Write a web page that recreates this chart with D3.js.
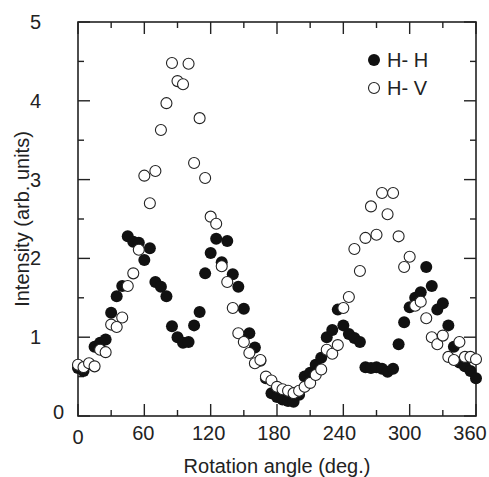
<!DOCTYPE html>
<html>
<head>
<meta charset="utf-8">
<script src="https://cdn.jsdelivr.net/npm/d3@7"></script>
<style>
  body { margin: 0; background: #fff; }
  text { font-family: "Liberation Sans", Arial, sans-serif; fill: #222; }
</style>
</head>
<body>
<svg id="chart"></svg>
<script>
// rotation angle in degrees, every 5 deg
const angles = d3.range(0, 361, 5);

// H-H (filled circles)
const hh = [
  0.61, 0.57, 0.66, 0.88, 0.93, 0.97, 1.31, 1.52, 1.65, 2.28,
  2.21, 2.20, 1.98, 2.13, 1.70, 1.64, 1.52, 1.14, 1.00, 0.93,
  0.94, 1.15, 1.32, 1.81, 2.07, 2.25, 1.95, 2.22, 1.80, 1.64,
  1.36, 1.05, 0.87, 0.70, 0.48, 0.29, 0.24, 0.21, 0.19, 0.18,
  0.27, 0.50, 0.55, 0.65, 0.74, 1.00, 1.09, 1.35, 1.15, 1.04,
  0.99, 0.94, 0.62, 0.61, 0.62, 0.60, 0.56, 0.60, 0.91, 1.19,
  1.38, 1.50, 1.57, 1.89, 1.65, 1.35, 1.43, 1.15, 0.88, 0.68,
  0.63, 0.57, 0.48
];

// H-V (open circles)
const hv = [
  0.65, 0.62, 0.67, 0.63, 0.84, 0.81, 1.16, 1.13, 1.25, 1.65,
  1.81, 2.11, 3.05, 2.70, 3.11, 3.63, 3.97, 4.48, 4.25, 4.21,
  4.47, 3.21, 3.78, 3.02, 2.53, 2.44, 1.90, 1.70, 1.37, 1.05,
  0.94, 0.80, 0.67, 0.71, 0.50, 0.45, 0.37, 0.34, 0.32, 0.29,
  0.32, 0.37, 0.42, 0.52, 0.59, 0.84, 0.79, 0.90, 1.37, 1.51,
  2.12, 1.84, 2.26, 2.66, 2.30, 2.83, 2.56, 2.83, 2.28, 1.89,
  2.02, 1.40, 1.45, 1.24, 1.00, 0.91, 1.02, 0.75, 0.71, 0.94,
  0.75, 0.75, 0.72
];

const xTicks = [0, 60, 120, 180, 240, 300, 360];
const xMinor = [30, 90, 150, 210, 270, 330];
const yTicks = [0, 1, 2, 3, 4, 5];
const yMinor = [0.5, 1.5, 2.5, 3.5, 4.5];
const seriesNames = ["H- H", "H- V"];

const width = 489;
const height = 477;
const margin = { top: 22, right: 13, bottom: 61, left: 78 };

const svg = d3.select("#chart").attr("width", width).attr("height", height);

const x = d3.scaleLinear().domain([0, 360]).range([margin.left, width - margin.right]);
const y = d3.scaleLinear().domain([0, 5]).range([height - margin.bottom, margin.top]);
// tick labels in the original sit slightly left of their ticks toward the right end
const xLabel = d3.scaleLinear().domain([0, 360]).range([margin.left, width - margin.right - 6]);

const x0 = x(0), x1 = x(360), y0 = y(0), y1 = y(5);

// frame
svg.append("rect")
  .attr("x", x0).attr("y", y1)
  .attr("width", x1 - x0).attr("height", y0 - y1)
  .attr("fill", "none").attr("stroke", "#222").attr("stroke-width", 1.6);

// inward ticks on all four sides
const tickG = svg.append("g").attr("stroke", "#222").attr("stroke-width", 1.4);
const major = 12, minor = 6;
xTicks.concat(xMinor).forEach(v => {
  const len = xTicks.includes(v) ? major : minor;
  tickG.append("line").attr("x1", x(v)).attr("x2", x(v)).attr("y1", y0).attr("y2", y0 - len);
  tickG.append("line").attr("x1", x(v)).attr("x2", x(v)).attr("y1", y1).attr("y2", y1 + len);
});
yTicks.concat(yMinor).forEach(v => {
  const len = yTicks.includes(v) ? major : minor;
  tickG.append("line").attr("y1", y(v)).attr("y2", y(v)).attr("x1", x0).attr("x2", x0 + len);
  tickG.append("line").attr("y1", y(v)).attr("y2", y(v)).attr("x1", x1).attr("x2", x1 - len);
});

// tick labels
svg.append("g").selectAll("text")
  .data(xTicks)
  .enter().append("text")
  .attr("x", d => xLabel(d))
  .attr("y", d => d === 0 ? y0 + 28 : y0 + 24)
  .attr("text-anchor", "middle")
  .style("font-size", "20px")
  .text(d => d);

svg.append("g").selectAll("text")
  .data(yTicks)
  .enter().append("text")
  .attr("x", d => d === 0 ? x0 - 14 : x0 - 37)
  .attr("y", d => y(d) + 7 - (d === 0 ? 4 : 0))
  .attr("text-anchor", "end")
  .style("font-size", "20px")
  .text(d => d);

// axis titles
svg.append("text")
  .attr("x", (x0 + x1) / 2)
  .attr("y", height - 4)
  .attr("text-anchor", "middle")
  .style("font-size", "20px")
  .text("Rotation angle (deg.)");

svg.append("text")
  .attr("transform", `translate(29,${(y0 + y1) / 2}) rotate(-90)`)
  .attr("text-anchor", "middle")
  .style("font-size", "20px")
  .text("Intensity (arb. units)");

// points
svg.append("g").selectAll("circle")
  .data(angles.map((a, i) => ({ a, v: hh[i] })))
  .enter().append("circle")
  .attr("cx", d => x(d.a)).attr("cy", d => y(d.v))
  .attr("r", 6)
  .attr("fill", "#111");

svg.append("g").selectAll("circle")
  .data(angles.map((a, i) => ({ a, v: hv[i] })))
  .enter().append("circle")
  .attr("cx", d => x(d.a)).attr("cy", d => y(d.v))
  .attr("r", 5.5)
  .attr("fill", "#fff")
  .attr("stroke", "#222")
  .attr("stroke-width", 1.1);

// legend
const legend = svg.append("g").attr("transform", "translate(374,60)");
seriesNames.forEach((name, i) => {
  const g = legend.append("g").attr("transform", `translate(0,${i * 28})`);
  g.append("circle")
    .attr("r", i === 0 ? 6 : 5.5)
    .attr("fill", i === 0 ? "#111" : "#fff")
    .attr("stroke", i === 0 ? "none" : "#222")
    .attr("stroke-width", 1.1);
  g.append("text")
    .attr("x", 13).attr("y", 7)
    .style("font-size", "20px")
    .text(name);
});
</script>
</body>
</html>
